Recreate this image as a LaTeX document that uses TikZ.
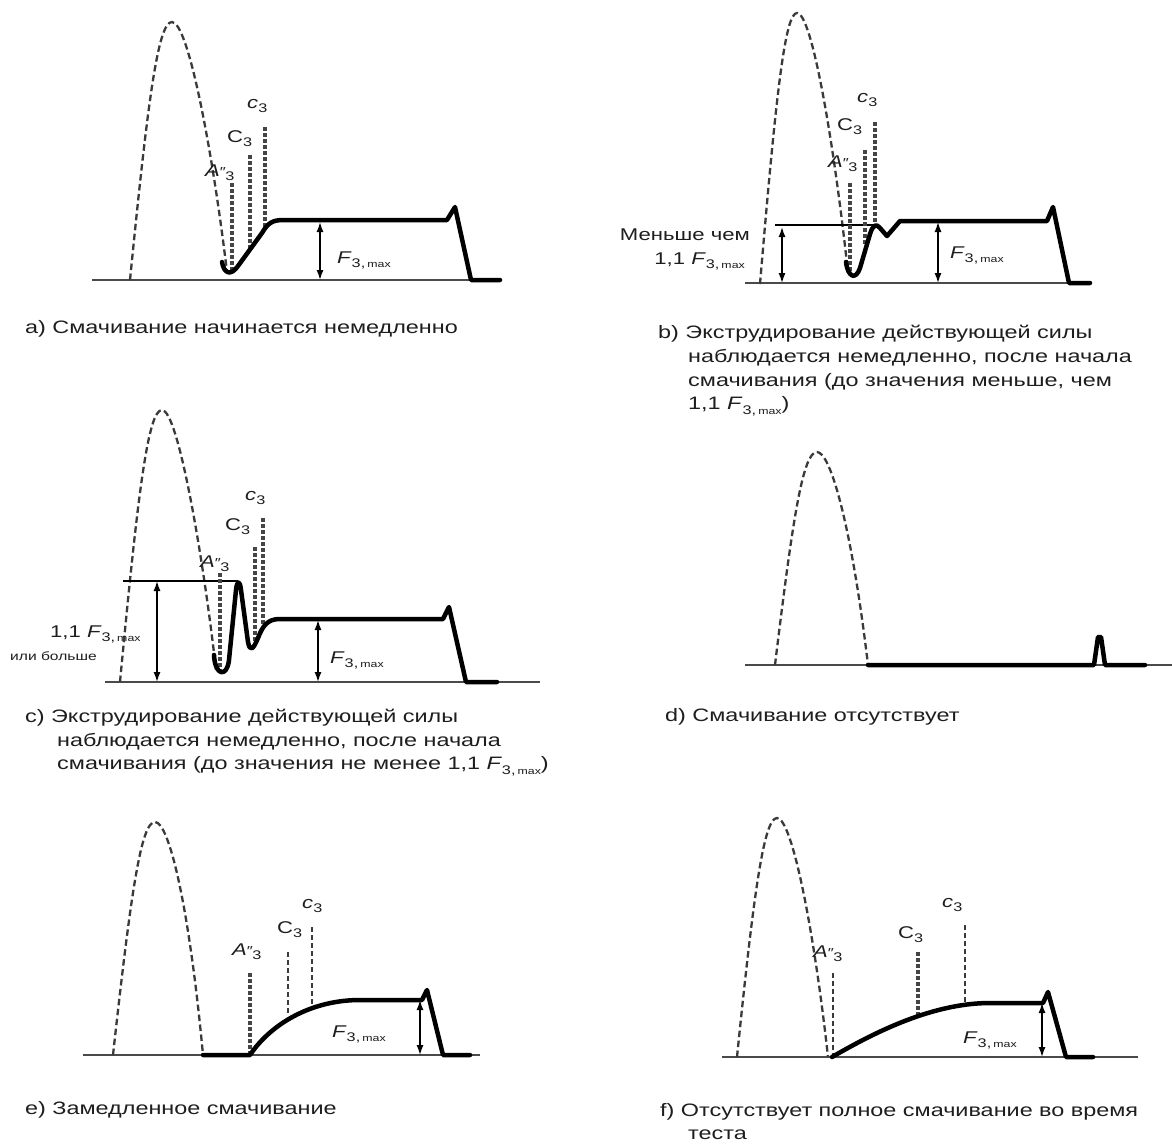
\documentclass[tikz,border=0pt]{standalone}
\usepackage{fontspec}
\setmainfont[FakeStretch=1.3]{Liberation Sans}
\usetikzlibrary{arrows.meta}
\definecolor{ink}{HTML}{1E1E1E}
\definecolor{basec}{HTML}{4A4A4A}
\definecolor{dashc}{HTML}{3A3A3A}
\definecolor{markc}{HTML}{454545}
\newcommand\sub[1]{\raisebox{-0.28em}{\fontsize{12.5}{12.5}\selectfont #1}}
\newcommand\Fmx{\textit{F}\raisebox{-0.28em}{\fontsize{12.5}{12.5}\selectfont 3,\,\fontsize{9.5}{9.5}\selectfont max}}
\newcommand\Adp{\textit{A}{\fontsize{13}{13}\selectfont ″}\kern-0.5pt\sub{3}}
\newcommand\Cbig{C\sub{3}}
\newcommand\csmall{\textit{c}\sub{3}}
\tikzset{
 baseln/.style={draw=basec, line width=2.2pt},
 archln/.style={draw=dashc, line width=2.3pt, dash pattern=on 6.5pt off 3.5pt},
 curveln/.style={draw=black, line width=4.5pt, line join=round, line cap=round},
 mkthick/.style={draw=markc, line width=3.1pt, dash pattern=on 4pt off 2pt},
 mkthin/.style={draw=dashc, line width=1.8pt, dash pattern=on 5pt off 3pt},
 refln/.style={draw=black, line width=2pt},
 dimarr/.style={draw=black, line width=1.4pt, >={Latex[length=10pt,width=7pt]}, <->},
 lbl/.style={text=ink, font=\fontsize{17}{17}\selectfont, inner sep=0pt, anchor=base west},
 smlbl/.style={text=ink, font=\fontsize{12}{12}\selectfont, inner sep=0pt, anchor=base west},
 capt/.style={text=ink, font=\fontsize{18}{18}\selectfont, inner sep=0pt, anchor=base west},
}
\begin{document}
\begin{tikzpicture}[x=1pt,y=-1pt]
\fill[white] (0,0) rectangle (1172,1146);
\useasboundingbox (0,0) rectangle (1172,1146);

% ================= panel a =================
\coordinate (aL) at (92,280); \coordinate (aR) at (500,280);
\draw[baseln] (aL) -- (aR);
\draw[archln] (130,280) .. controls (148,99) and (158,22) .. (172,22)
  .. controls (188,22) and (212,147) .. (227,272);
\draw[mkthick] (232,183) -- (232,270);
\draw[mkthick] (250,155) -- (250,248);
\draw[mkthick] (265,127) -- (265,229);
\draw[curveln] (222,262) .. controls (224,274) and (231,276) .. (238,266) -- (262,233)
  .. controls (268,223) and (272,220) .. (284,220) -- (447,220) -- (455,207) -- (471,280) -- (500,280);
\coordinate (aT) at (320,222); \coordinate (aB) at (320,280);
\draw[dimarr] (aT) -- (aB);
\node[lbl] (aA) at (205,176) {\Adp};
\node[lbl] (aC) at (227,142) {\Cbig};
\node[lbl] (ac) at (247,108) {\csmall};
\node[lbl] (aF) at (337,263) {\Fmx};
\node[capt] (capa) at (25,333) {a) Смачивание начинается немедленно};

% ================= panel b =================
\coordinate (bL) at (745,283); \coordinate (bR) at (1090,283);
\draw[baseln] (bL) -- (bR);
\draw[archln] (760,284) .. controls (776,94) and (785,13) .. (797,13)
  .. controls (812,13) and (834,143) .. (848,273);
\coordinate (bl1) at (775,225); \coordinate (bl2) at (878,225);
\draw[refln] (bl1) -- (bl2);
\draw[mkthick] (850,183) -- (850,273);
\draw[mkthick] (865,150) -- (865,245);
\draw[mkthick] (875,122) -- (875,227);
\draw[curveln] (846,262) .. controls (848,278) and (856,280) .. (860,268) -- (870,234)
  .. controls (873,225) and (876,223) .. (880,228) -- (887,236) -- (900,221) -- (1047,221)
  -- (1053,207) -- (1069,283) -- (1090,283);
\coordinate (bT1) at (782,227); \coordinate (bB1) at (782,283);
\draw[dimarr] (bT1) -- (bB1);
\coordinate (bT2) at (938,222); \coordinate (bB2) at (938,283);
\draw[dimarr] (bT2) -- (bB2);
\node[lbl] (bA) at (828,167) {\Adp};
\node[lbl] (bC) at (837,130) {\Cbig};
\node[lbl] (bc) at (857,102) {\csmall};
\node[lbl] (bF) at (950,258) {\Fmx};
\node[lbl, anchor=base east] (bless) at (750,240) {Меньше чем};
\node[lbl, anchor=base east] (bval) at (745,264) {1,1 \Fmx};
\node[capt] (capb1) at (658,338) {b) Экструдирование действующей силы};
\node[capt] (capb2) at (688,362) {наблюдается немедленно, после начала};
\node[capt] (capb3) at (688,386) {смачивания (до значения меньше, чем};
\node[capt] (capb4) at (688,409) {1,1 \Fmx)};

% ================= panel c =================
\coordinate (cL) at (105,682); \coordinate (cR) at (540,682);
\draw[baseln] (cL) -- (cR);
\draw[archln] (120,682) .. controls (138,492) and (148,410) .. (162,410)
  .. controls (178,410) and (203,555) .. (216,670);
\coordinate (cl1) at (123,581); \coordinate (cl2) at (238,581);
\draw[refln] (cl1) -- (cl2);
\draw[mkthick] (220,573) -- (220,672);
\draw[mkthick] (255,547) -- (255,642);
\draw[mkthick] (263,518) -- (263,624);
\draw[curveln] (214,655) .. controls (215,676) and (227,678) .. (229,660) -- (236,590)
  .. controls (237,580) and (240,580) .. (241,590) -- (248,642)
  .. controls (250,652) and (253,650) .. (258,638) .. controls (263,625) and (268,619) .. (280,619)
  -- (443,619) -- (449,607) -- (466,682) -- (497,682);
\coordinate (cT1) at (157,581); \coordinate (cB1) at (157,682);
\draw[dimarr] (cT1) -- (cB1);
\coordinate (cT2) at (318,620); \coordinate (cB2) at (318,682);
\draw[dimarr] (cT2) -- (cB2);
\node[lbl] (cA) at (200,567) {\Adp};
\node[lbl] (cC) at (225,530) {\Cbig};
\node[lbl] (cc) at (245,500) {\csmall};
\node[lbl] (cF) at (330,663) {\Fmx};
\node[lbl] (cval) at (50,637) {1,1 \Fmx};
\node[smlbl] (cmore) at (10,660) {или больше};
\node[capt] (capc1) at (25,722) {c) Экструдирование действующей силы};
\node[capt] (capc2) at (57,746) {наблюдается немедленно, после начала};
\node[capt] (capc3) at (57,769) {смачивания (до значения не менее 1,1 \Fmx)};

% ================= panel d =================
\coordinate (dL) at (745,665); \coordinate (dR) at (1172,665);
\draw[baseln] (dL) -- (dR);
\draw[archln] (775,665) .. controls (793,516) and (803,452) .. (817,452)
  .. controls (831,452) and (852,530) .. (868,665);
\draw[curveln] (868,665) -- (1094,665) -- (1098,637) -- (1101,637) -- (1105,665) -- (1145,665);
\node[capt] (capd) at (665,721) {d) Смачивание отсутствует};

% ================= panel e =================
\coordinate (eL) at (83,1055); \coordinate (eR) at (480,1055);
\draw[baseln] (eL) -- (eR);
\draw[archln] (113,1055) .. controls (131,892) and (141,822) .. (155,822)
  .. controls (169,822) and (189,905) .. (203,1055);
\draw[mkthick] (250,973) -- (250,1055);
\draw[mkthin] (288,952) -- (288,1013);
\draw[mkthin] (312,927) -- (312,1005);
\draw[curveln] (203,1055) -- (250,1055) .. controls (270,1025) and (310,1000) .. (360,1000)
  -- (422,1000) -- (427,990) -- (443,1055) -- (470,1055);
\coordinate (eT) at (420,1000); \coordinate (eB) at (420,1055);
\draw[dimarr] (eT) -- (eB);
\node[lbl] (eA) at (232,955) {\Adp};
\node[lbl] (eC) at (277,933) {\Cbig};
\node[lbl] (ec) at (302,908) {\csmall};
\node[lbl] (eF) at (332,1037) {\Fmx};
\node[capt] (cape) at (25,1114) {e) Замедленное смачивание};

% ================= panel f =================
\coordinate (fL) at (722,1057); \coordinate (fR) at (1138,1057);
\draw[baseln] (fL) -- (fR);
\draw[archln] (737,1057) .. controls (754,890) and (764,818) .. (777,818)
  .. controls (792,818) and (814,930) .. (828,1057);
\draw[mkthin] (833,973) -- (833,1057);
\draw[mkthick] (918,952) -- (918,1017);
\draw[mkthin] (965,925) -- (965,1007);
\draw[curveln] (832,1057) .. controls (870,1035) and (930,1003) .. (990,1003)
  -- (1043,1003) -- (1048,992) -- (1066,1057) -- (1093,1057);
\coordinate (fT) at (1042,1003); \coordinate (fB) at (1042,1057);
\draw[dimarr] (fT) -- (fB);
\node[lbl] (fA) at (813,957) {\Adp};
\node[lbl] (fC) at (898,938) {\Cbig};
\node[lbl] (fc) at (942,907) {\csmall};
\node[lbl] (fF) at (963,1043) {\Fmx};
\node[capt] (capf1) at (660,1116) {f) Отсутствует полное смачивание во время};
\node[capt] (capf2) at (688,1139) {теста};
\end{tikzpicture}
\end{document}
